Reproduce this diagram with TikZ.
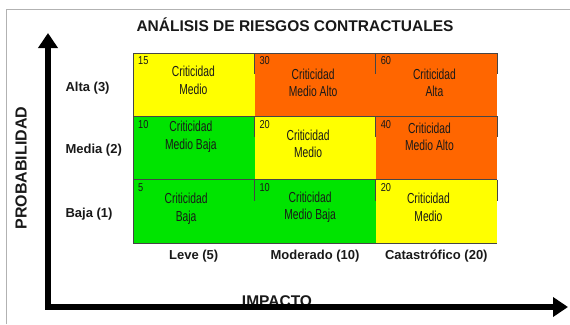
\documentclass[tikz,border=0pt]{standalone}
\usepackage{fontspec}
\setmainfont{Liberation Sans}
\newfontfamily\narrowfont[FakeStretch=0.71]{Liberation Sans}
\newfontfamily\numfont[FakeStretch=0.8]{Liberation Sans}
\usetikzlibrary{arrows.meta,positioning}
\definecolor{riskyellow}{RGB}{255,255,0}
\definecolor{riskorange}{RGB}{255,102,0}
\definecolor{riskgreen}{RGB}{0,228,0}
\definecolor{edgegray}{RGB}{70,70,70}
\tikzset{
  cellbox/.style={minimum width=121.3pt, minimum height=63.3pt, inner sep=0pt, anchor=north west},
  celltext/.style={align=center, font=\narrowfont\fontsize{14.5}{17.5}\selectfont, text=black!90},
  cellnum/.style={inner sep=0pt, font=\numfont\fontsize{11.5}{13}\selectfont, text=black!90},
  edge/.style={edgegray, line width=0.9pt},
  lbl/.style={font=\fontsize{13}{15}\selectfont\bfseries, text=black!90},
  axis/.style={line width=5.5pt, line join=miter, line cap=butt}
}
\begin{document}
\begin{tikzpicture}[x=1pt, y=-1pt, >={Triangle[length=15pt,width=19pt]}]
\useasboundingbox (0,0) rectangle (570,324);
\draw[gray!60, line width=0.8pt] (6,324) -- (6,9) -- (570,9);
\node[font=\fontsize{15.5}{18}\selectfont\bfseries, text=black!90] (title) at (295,25) {ANÁLISIS DE RIESGOS CONTRACTUALES};
\foreach \r/\c/\col/\n/\dx/\dy/\txt in {
  1/1/riskyellow/15/-0.5/4.7/{Criticidad\\Medio},
  1/2/riskorange/30/-2/2/{Criticidad\\Medio Alto},
  1/3/riskorange/60/-2/2/{Criticidad\\Alta},
  2/1/riskgreen/10/-3/11.5/{Criticidad\\Medio Baja},
  2/2/riskyellow/20/-7/4.5/{Criticidad\\Medio},
  2/3/riskorange/40/-7/11.5/{Criticidad\\Medio Alto},
  3/1/riskgreen/5/-7.7/2.6/{Criticidad\\Baja},
  3/2/riskgreen/10/-5/4.3/{Criticidad\\Medio Baja},
  3/3/riskyellow/20/-8/4.3/{Criticidad\\Medio}}{
  \node[cellbox, fill=\col] (c\r\c) at ({133+(\c-1)*121.3},{53+(\r-1)*63.3}) {};
  \node[celltext] (t\r\c) at (c\r\c) [xshift=\dx pt, yshift=\dy pt] {\txt};
  \node[cellnum, anchor=north west] (n\r\c) at (c\r\c.north west) [xshift=5pt, yshift=-3.5pt] {\n};
  \draw[edge] (c\r\c.north west) -- (c\r\c.north east);
  \draw[edge] (c\r\c.north west) -- ++(0,21);
  \draw[edge] (c\r\c.north east) -- ++(0,21);
}
\draw[edge] (c11.north west) -- (c31.south west) -- (c33.south east);
\node[lbl, anchor=west] (alta) at (62,88) {Alta (3)};
\node[lbl, anchor=west] (media) at (62,150) {Media (2)};
\node[lbl, anchor=west] (baja) at (62,214) {Baja (1)};
\node[lbl] (leve) at (193.7,256) {Leve (5)};
\node[lbl] (moderado) at (315,256) {Moderado (10)};
\node[lbl] (catastrofico) at (436.3,256) {Catastrófico (20)};
\node[font=\fontsize{16}{18}\selectfont\bfseries, text=black!90, rotate=90] (prob) at (21,168) {PROBABILIDAD};
\node[font=\fontsize{15.5}{18}\selectfont\bfseries, text=black!90, anchor=base] (impacto) at (277,306) {IMPACTO};
\coordinate (ytip) at (48,33);
\coordinate (org) at (48,307);
\coordinate (xtip) at (568,307);
\draw[axis, <->] (ytip) -- (org) -- (xtip);
\end{tikzpicture}
\end{document}
